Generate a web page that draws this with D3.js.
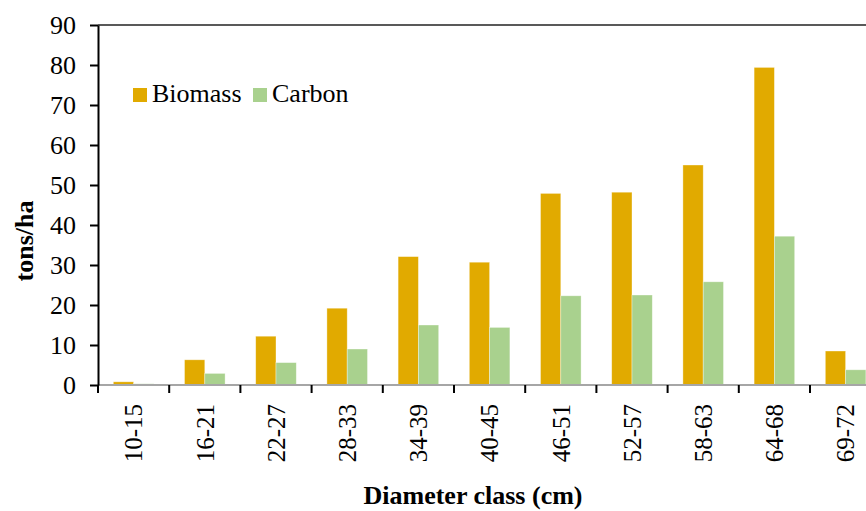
<!DOCTYPE html>
<html lang="en">
<head>
<meta charset="UTF-8">
<title>Biomass and carbon by diameter class</title>
<style>
    body { margin: 0; background: #fff; }
    svg { display: block; font-family: "Liberation Serif", "Times New Roman", serif; }
</style>
</head>
<body>
<script src="https://cdn.jsdelivr.net/npm/d3@7"></script>
<script>
    // Data
    const classes = ["10-15", "16-21", "22-27", "28-33", "34-39", "40-45", "46-51", "52-57", "58-63", "64-68", "69-72"];
    const biomass = [0.8, 6.3, 12.2, 19.2, 32.1, 30.7, 47.9, 48.2, 55.0, 79.4, 8.5];
    const carbon = [0.3, 2.9, 5.6, 9.0, 15.0, 14.4, 22.3, 22.5, 25.8, 37.2, 3.8];
    const seriesNames = ["Biomass", "Carbon"];
    const yTicks = [0, 10, 20, 30, 40, 50, 60, 70, 80, 90];

    const width = 866, height = 511;
    const margin = {top: 25, left: 98, bottom: 126};
    const plotBottom = height - margin.bottom;
    const colors = {Biomass: "#e1aa00", Carbon: "#a9d18e"};
    const serif = "'Liberation Serif', 'Times New Roman', serif";

    const rows = classes.map((c, i) => ({cls: c, Biomass: biomass[i], Carbon: carbon[i]}));

    const svg = d3.select("body").append("svg")
        .attr("width", width)
        .attr("height", height);

    // Scales (plot runs past the right edge, as in the original)
    const step = 71.2;
    const x = d3.scaleBand()
        .domain(classes)
        .range([margin.left, margin.left + step * classes.length])
        .paddingInner(0.43)
        .paddingOuter(0.215);
    const xs = d3.scaleBand()
        .domain(seriesNames)
        .range([0, x.bandwidth()]);
    const y = d3.scaleLinear()
        .domain([0, 90])
        .range([plotBottom, margin.top]);

    // top border
    svg.append("line")
        .attr("x1", margin.left).attr("x2", width)
        .attr("y1", y(90)).attr("y2", y(90))
        .attr("stroke", "#222").attr("stroke-width", 1.5);

    // bars
    const groups = svg.selectAll(".grp")
        .data(rows)
        .enter().append("g")
        .attr("transform", d => `translate(${x(d.cls)},0)`);

    groups.selectAll("rect")
        .data(d => seriesNames.map(k => ({key: k, value: d[k]})))
        .enter().append("rect")
        .attr("x", d => xs(d.key))
        .attr("y", d => y(d.value))
        .attr("width", xs.bandwidth())
        .attr("height", d => y(0) - y(d.value))
        .attr("fill", d => colors[d.key])
        .attr("stroke", "#fff")
        .attr("stroke-opacity", 0.5)
        .attr("stroke-width", 0.7);

    // x axis baseline (grey) and boundary ticks
    svg.append("line")
        .attr("x1", margin.left).attr("x2", width)
        .attr("y1", plotBottom).attr("y2", plotBottom)
        .attr("stroke", "#a6a6a6").attr("stroke-width", 2);

    const gap = (x.step() - x.bandwidth()) / 2;
    const bounds = classes.map(c => x(c) - gap);
    svg.selectAll(".xtick")
        .data(bounds)
        .enter().append("line")
        .attr("x1", d => d).attr("x2", d => d)
        .attr("y1", plotBottom).attr("y2", plotBottom + 8)
        .attr("stroke", "#000").attr("stroke-width", 2);

    // x tick labels, rotated
    const xAxis = svg.append("g")
        .attr("transform", `translate(0,${plotBottom})`)
        .call(d3.axisBottom(x).tickSize(0));
    xAxis.attr("font-family", serif);
    xAxis.select(".domain").remove();
    xAxis.selectAll("text")
        .style("font-family", serif)
        .style("font-size", "25px")
        .attr("fill", "#000")
        .attr("transform", "rotate(-90)")
        .attr("text-anchor", "end")
        .attr("x", -19)
        .attr("y", 0)
        .attr("dy", "0.35em");

    // y axis
    const yAxis = svg.append("g")
        .attr("transform", `translate(${margin.left},0)`)
        .call(d3.axisLeft(y).tickValues(yTicks).tickSize(8).tickSizeOuter(0).tickPadding(14));
    yAxis.attr("font-family", serif);
    yAxis.select(".domain").attr("stroke", "#000").attr("stroke-width", 2);
    yAxis.selectAll(".tick line").attr("stroke", "#000").attr("stroke-width", 2);
    yAxis.selectAll("text")
        .style("font-family", serif)
        .style("font-size", "26px")
        .attr("fill", "#000");

    // axis titles
    svg.append("text")
        .attr("transform", "translate(33,241) rotate(-90)")
        .attr("text-anchor", "middle")
        .style("font-weight", "bold")
        .style("font-size", "26px")
        .text("tons/ha");
    svg.append("text")
        .attr("x", 473)
        .attr("y", 504)
        .attr("text-anchor", "middle")
        .style("font-weight", "bold")
        .style("font-size", "26px")
        .text("Diameter class (cm)");

    // legend
    const legendX = [133, 253];
    const legend = svg.selectAll(".legend")
        .data(seriesNames)
        .enter().append("g")
        .attr("transform", (d, i) => `translate(${legendX[i]},88)`);
    legend.append("rect")
        .attr("width", 14).attr("height", 14)
        .attr("fill", d => colors[d]);
    legend.append("text")
        .attr("x", 19)
        .attr("y", 14)
        .style("font-size", "26px")
        .text(d => d);
</script>
</body>
</html>
